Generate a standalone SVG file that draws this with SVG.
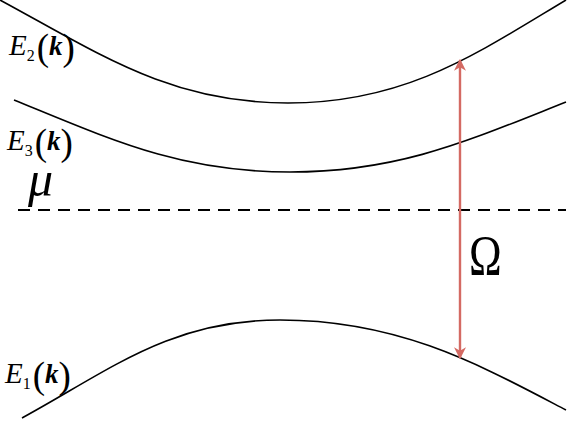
<svg xmlns="http://www.w3.org/2000/svg" width="574" height="429" viewBox="0 0 574 429">
<defs>
<style>
.band{fill:none;stroke:#000;stroke-width:1.6}
.t{font-family:'Liberation Serif',serif;fill:#000}
.e{font-style:italic;font-size:29px}
.sub{font-size:16px}
.par{font-size:37px}
.k{font-style:italic;font-weight:bold;font-size:27px}
</style>
<marker id="ah" viewBox="0 0 10 10" refX="9" refY="5" markerWidth="5" markerHeight="5" orient="auto-start-reverse">
<path d="M0,0 L10,5 L0,10 L3,5 Z" fill="#d46a63"/>
</marker>
</defs>
<rect width="574" height="429" fill="#fff"/>
<g id="connectors">
<path id="E2" class="band" d="M 0 0 C 100 54, 170 103, 288 103 C 406 103, 476 54, 566 0"/>
<path id="E3" class="band" d="M 14 100 C 112 140, 180 172, 290 172 C 400 172, 470 140, 566 102"/>
<path id="E1" class="band" d="M 22 418 C 110 370, 170 320, 280 320 C 400 320, 480 365, 566 410"/>
<line id="mu-line" x1="18" y1="210" x2="566" y2="210" stroke="#000" stroke-width="2" stroke-dasharray="12,8"/>
<line id="omega-arrow" x1="460" y1="60" x2="460" y2="358" stroke="#d46a63" stroke-width="2.4" marker-start="url(#ah)" marker-end="url(#ah)"/>
</g>
<g id="label-E2">
<text class="t" font-family="Liberation Serif" x="9" y="55"><tspan class="e">E</tspan><tspan class="sub" dy="6">2</tspan><tspan class="par" dy="-1" dx="2">(</tspan><tspan class="k" dy="-5">k</tspan><tspan class="par" dy="5">)</tspan></text>
</g>
<g id="label-E3">
<text class="t" font-family="Liberation Serif" x="7" y="150"><tspan class="e">E</tspan><tspan class="sub" dy="6">3</tspan><tspan class="par" dy="-1" dx="2">(</tspan><tspan class="k" dy="-5">k</tspan><tspan class="par" dy="5">)</tspan></text>
</g>
<g id="label-mu">
<text class="t" font-family="Liberation Serif" x="28" y="196" font-style="italic" font-size="50px">μ</text>
</g>
<g id="label-E1">
<text class="t" font-family="Liberation Serif" x="5" y="383"><tspan class="e">E</tspan><tspan class="sub" dy="6">1</tspan><tspan class="par" dy="-1" dx="2">(</tspan><tspan class="k" dy="-5">k</tspan><tspan class="par" dy="5">)</tspan></text>
</g>
<g id="label-omega">
<text class="t" font-family="Liberation Serif" x="0" y="0" font-size="44px" transform="translate(469 275) scale(1 1.3)">Ω</text>
</g>
</svg>
